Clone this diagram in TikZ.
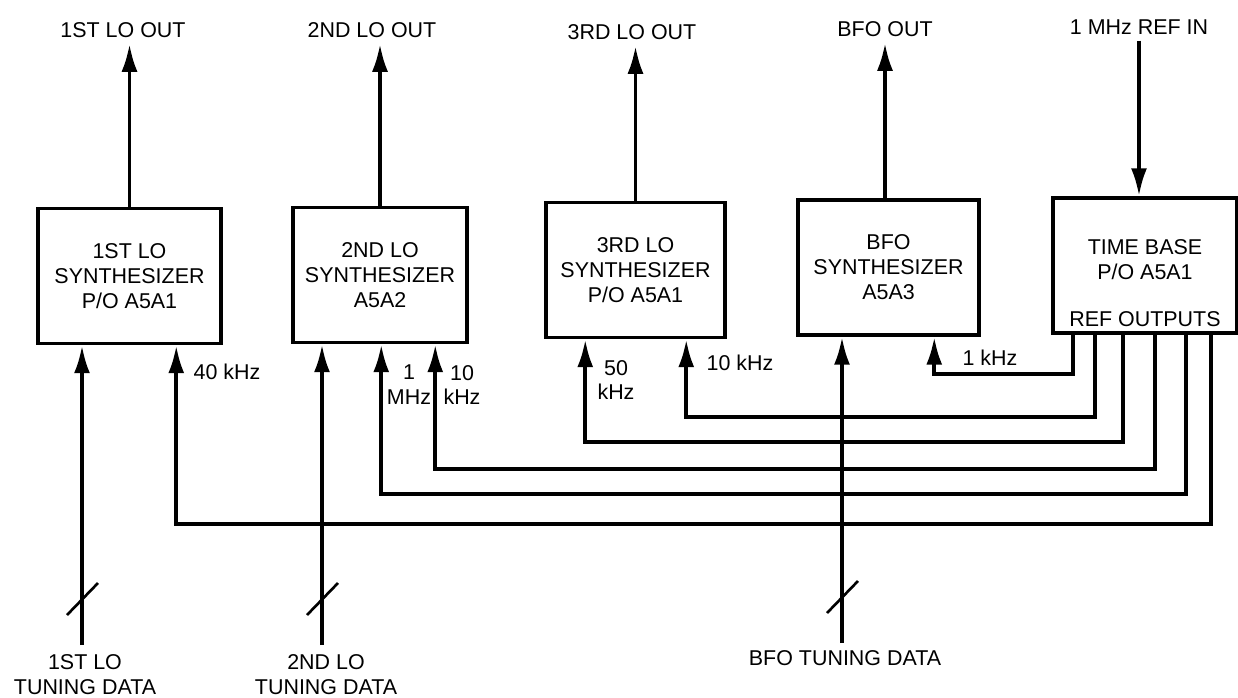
\documentclass[tikz,border=0pt]{standalone}
\usepackage{fontspec}
\setmainfont{Liberation Sans}
\usetikzlibrary{arrows.meta,calc}
\newcommand{\blockfont}{\fontsize{12.2}{14.2}\selectfont}
\tikzset{
  synth/.style={draw, line width=2pt, minimum height=2.7cm, align=center, font=\blockfont, inner sep=0pt},
  sig/.style={line width=2.2pt, -{Latex[length=0.56cm,width=0.32cm]}},
  busmark/.style={line width=1.5pt},
  lbl/.style={font=\blockfont, align=center},
}
\begin{document}
\begin{tikzpicture}[x=0.02cm, y=-0.02cm]
\useasboundingbox (0,0) rectangle (1238,697);
% synthesizer blocks
\node[synth, minimum width=3.66cm] (b1) at (129.5,276) {1ST LO\\SYNTHESIZER\\P/O A5A1};
\node[synth, minimum width=3.48cm] (b2) at (380,275) {2ND LO\\SYNTHESIZER\\A5A2};
\node[synth, minimum width=3.58cm] (b3) at (635.5,270) {3RD LO\\SYNTHESIZER\\P/O A5A1};
\node[synth, minimum width=3.62cm] (b4) at (888.5,267.5) {BFO\\SYNTHESIZER\\A5A3};
\node[synth, minimum width=3.68cm] (b5) at (1145,265.5) {};
\node[lbl] (tb) at (1145,260) {TIME BASE\\P/O A5A1};
\node[lbl, anchor=base] (refout) at ($(b5.south)+(0,-8)$) {REF OUTPUTS};
% outputs
\node[lbl] (o1) at (123,30) {1ST LO OUT};
\node[lbl] (o2) at (372,30) {2ND LO OUT};
\node[lbl] (o3) at (632,32) {3RD LO OUT};
\node[lbl] (o4) at (885,29) {BFO OUT};
\node[lbl] (o5) at (1139,27) {1 MHz REF IN};
\draw[sig] (b1.north) -- (b1.north |- o1.south);
\draw[sig] (b2.north) -- (b2.north |- o2.south);
\draw[sig] (b3.north) -- (b3.north |- o3.south);
\draw[sig] (o4 |- b4.north) -- (o4.south);
\draw[sig] (o5.south) -- (o5 |- b5.north);
% tuning data
\coordinate (t1) at (82,645);
\coordinate (t2) at (322,645);
\coordinate (t3) at (842,643);
\node[lbl] (l1) at (85,675) {1ST LO\\TUNING DATA};
\node[lbl] (l2) at (326,675) {2ND LO\\TUNING DATA};
\node[lbl] (l3) at (845,658) {BFO TUNING DATA};
\draw[sig] (t1) -- (t1 |- b1.south);
\draw[sig] (t2) -- (t2 |- b2.south);
\draw[sig] (t3) -- (t3 |- b4.south);
\foreach \t in {t1,t2,t3}
  \draw[busmark] ($(\t)+(-15,-30)$) -- ++(31,-32);
% reference outputs
\foreach \sx/\dy/\dst/\dx in {22/39/b4/138, 44/82/b3/142, 72/107/b3/41, 104/134/b2/144, 135/159/b2/90, 160/189/b1/140}
  \draw[sig] ($(b5.south west)+(\sx,0)$) -- ++(0,\dy) -| ($(\dst.south west)+(\dx,0)$);
\node[lbl] (f40) at (227,372) {40 kHz};
\node[lbl] (f1m) at (409,385) {1\\MHz};
\node[lbl] (f10a) at (462,385) {10\\kHz};
\node[lbl] (f50) at (616,380) {50\\kHz};
\node[lbl] (f10b) at (740,363) {10 kHz};
\node[lbl] (f1k) at (990,358) {1 kHz};
\end{tikzpicture}
\end{document}
